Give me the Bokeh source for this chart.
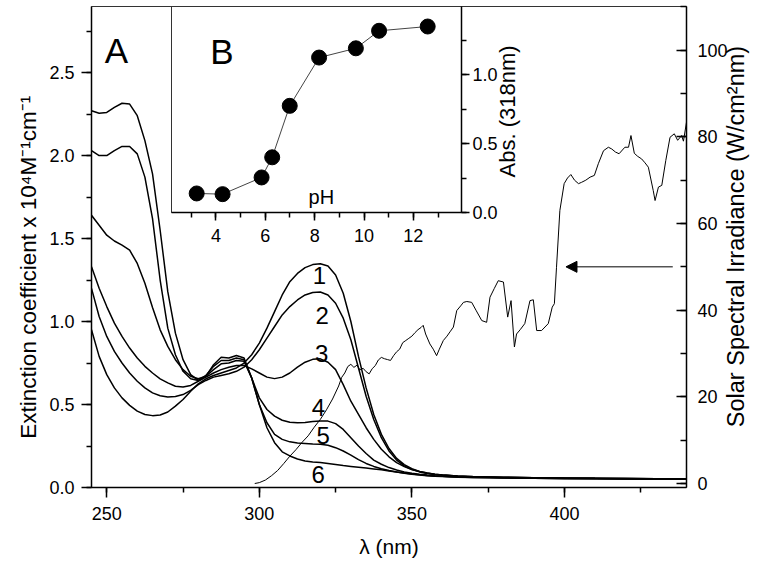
import math
from bokeh.plotting import figure
from bokeh.models import (Range1d, LinearAxis, SingleIntervalTicker, FixedTicker, Label, Arrow, NormalHead,
                          ColumnDataSource, PrintfTickFormatter)
from bokeh.embed import file_html
from bokeh.resources import INLINE
from bokeh.core.properties import value

FONT = "Liberation Sans"

# ---------------- data ----------------
wl = [245, 247.5, 250, 252.5, 255, 257.5, 260, 262.5, 265, 267.5, 270, 272.5, 275, 277.5,
      280, 282.5, 285, 287.5, 290, 292.5, 295, 297.5, 300, 302.5, 305, 307.5, 310, 312.5,
      315, 317.5, 320, 322.5, 325, 327.5, 330, 332.5, 335, 337.5, 340, 342.5, 345, 347.5,
      350, 352.5, 355, 357.5, 360, 365, 370, 380, 390, 400, 410, 420, 430, 440]

curve1 = [0.95, 0.79, 0.68, 0.60, 0.54, 0.495, 0.46, 0.44, 0.433, 0.437, 0.455, 0.49, 0.53, 0.58,
          0.625, 0.655, 0.675, 0.69, 0.705, 0.72, 0.75, 0.80, 0.87, 0.96, 1.06, 1.16, 1.24, 1.29,
          1.325, 1.343, 1.348, 1.335, 1.28, 1.17, 1.00, 0.79, 0.60, 0.44, 0.32, 0.235, 0.175, 0.138,
          0.113, 0.097, 0.087, 0.080, 0.076, 0.070, 0.066, 0.062, 0.059, 0.057, 0.055, 0.054, 0.053, 0.052]
curve2 = [1.20, 1.03, 0.91, 0.82, 0.75, 0.69, 0.64, 0.60, 0.57, 0.553, 0.545, 0.548, 0.56, 0.585,
          0.62, 0.645, 0.665, 0.675, 0.685, 0.70, 0.725, 0.77, 0.83, 0.90, 0.97, 1.04, 1.09, 1.13,
          1.16, 1.175, 1.178, 1.16, 1.11, 1.02, 0.89, 0.72, 0.55, 0.41, 0.30, 0.22, 0.165, 0.13,
          0.108, 0.094, 0.085, 0.079, 0.075, 0.069, 0.065, 0.061, 0.058, 0.056, 0.054, 0.053, 0.052, 0.051]
curve3 = [1.33, 1.20, 1.09, 0.99, 0.91, 0.84, 0.78, 0.73, 0.69, 0.655, 0.63, 0.61, 0.605, 0.615,
          0.64, 0.665, 0.69, 0.71, 0.725, 0.735, 0.735, 0.715, 0.69, 0.665, 0.656, 0.665, 0.69, 0.725,
          0.755, 0.772, 0.775, 0.755, 0.71, 0.62, 0.52, 0.44, 0.36, 0.29, 0.23, 0.185, 0.15, 0.126,
          0.108, 0.096, 0.087, 0.080, 0.075, 0.068, 0.064, 0.060, 0.058, 0.056, 0.055, 0.054, 0.053, 0.052]
curve4 = [1.64, 1.58, 1.52, 1.485, 1.46, 1.43, 1.35, 1.23, 1.085, 0.95, 0.85, 0.77, 0.71, 0.67,
          0.655, 0.67, 0.71, 0.745, 0.75, 0.765, 0.76, 0.66, 0.54, 0.47, 0.43, 0.405, 0.393, 0.39,
          0.392, 0.397, 0.40, 0.40, 0.385, 0.35, 0.30, 0.25, 0.205, 0.165, 0.14, 0.12, 0.105, 0.094,
          0.086, 0.080, 0.075, 0.071, 0.068, 0.064, 0.061, 0.058, 0.056, 0.054, 0.053, 0.052, 0.051, 0.050]
curve5 = [2.03, 2.00, 2.00, 2.03, 2.055, 2.055, 2.01, 1.87, 1.62, 1.25, 0.96, 0.80, 0.70, 0.655,
          0.645, 0.675, 0.73, 0.765, 0.765, 0.78, 0.77, 0.66, 0.50, 0.39, 0.32, 0.29, 0.275, 0.268,
          0.265, 0.262, 0.26, 0.255, 0.24, 0.22, 0.195, 0.168, 0.145, 0.127, 0.113, 0.102, 0.093, 0.086,
          0.080, 0.075, 0.071, 0.068, 0.066, 0.062, 0.060, 0.057, 0.055, 0.053, 0.052, 0.051, 0.050, 0.050]
curve6 = [2.27, 2.255, 2.26, 2.29, 2.315, 2.31, 2.24, 2.09, 1.89, 1.55, 1.18, 0.93, 0.77, 0.68,
          0.645, 0.67, 0.74, 0.785, 0.78, 0.795, 0.78, 0.66, 0.50, 0.36, 0.27, 0.215, 0.19, 0.172,
          0.16, 0.154, 0.15, 0.144, 0.138, 0.132, 0.127, 0.122, 0.117, 0.112, 0.107, 0.10, 0.094, 0.088,
          0.082, 0.077, 0.073, 0.070, 0.068, 0.065, 0.063, 0.060, 0.058, 0.056, 0.055, 0.054, 0.053, 0.052]

curve_names = ["1", "2", "3", "4", "5", "6"]
label_nm = [319.7, 320.6, 320.4, 319.4, 320.9, 319.3]
label_val = [1.277, 1.036, 0.807, 0.482, 0.313, 0.078]

solar_nm = [298.5, 300, 302, 304, 306, 308, 310, 312, 314, 316, 318, 320, 322, 324, 326, 327, 328, 329,
            330, 331, 332, 333, 334, 335, 336, 337, 338, 339, 340, 341, 342, 343, 344, 345, 346, 347,
            348, 349, 350, 351, 352, 353, 353.7, 354.5, 355.9, 357, 358.1, 359, 360.3, 361.5, 362.5,
            363.6, 364.7, 366, 366.9, 368, 369.6, 371, 372.9, 374.5, 375.6, 377, 378.3, 380, 381.4,
            382.5, 383.6, 384.3, 385.5, 387, 388.7, 389.8, 390.9, 392.5, 394.7, 396, 396.7, 397.4,
            398.5, 399.9, 401, 402.1, 403.3, 404.6, 405.6, 407, 408.4, 409.8, 411.1, 412.8, 414.4,
            415.5, 416.7, 417.9, 419.8, 421, 421.8, 422.9, 424, 425.3, 426.4, 427.5, 429.1, 429.7,
            430.8, 431.9, 433.2, 434.6, 436, 437.1, 438.4, 439, 440]
solar_val = [0, 0.2, 0.8, 1.8, 3.0, 4.6, 6.3, 7.8, 9.5, 11.0, 13.0, 14.8, 17.0, 19.5, 22.5, 24.5, 25.5, 27.0,
             27.5, 26.8, 27.3, 26.2, 26.6, 25.8, 25.3, 26.5, 27.2, 28.5, 29.1, 28.8, 28.6, 28.4, 29.5, 30.4,
             31.0, 32.5, 33.0, 33.5, 34.0, 34.8, 35.5, 36.0, 36.5, 34.5, 32.2, 31.0, 29.5, 31.0, 33.0, 34.0,
             35.0, 36.1, 39.9, 41.0, 41.8, 42.0, 41.8, 40.0, 37.6, 37.2, 43.0, 45.0, 46.8, 46.5, 38.4,
             42.2, 31.5, 34.5, 35.5, 36.9, 42.2, 42.4, 35.3, 35.3, 36.9, 40.7, 41.5, 49.9,
             63.0, 69.2, 70.5, 71.3, 70.0, 69.2, 69.5, 70.0, 70.7, 71.1, 73.8, 76.8, 77.6,
             77.2, 76.5, 76.1, 77.6, 77.6, 80.3, 76.2, 75.5, 74.9, 74.0, 73.0, 67.6, 65.3,
             68.4, 68.8, 74.5, 79.9, 80.7, 79.2, 80.3, 79.0, 83.4]

arrow_from = (435.5, 50.0)
arrow_to = (400.5, 50.0)

ph = [3.22, 4.27, 5.85, 6.28, 6.99, 8.18, 9.67, 10.61, 12.58]
abs318 = [0.138, 0.133, 0.254, 0.40, 0.773, 1.123, 1.19, 1.317, 1.348]

left_title = "Extinction coefficient x 10⁴M⁻¹cm⁻¹"
right_title = "Solar Spectral Irradiance (W/cm²nm)"
bottom_title = "λ (nm)"
inset_title = "Abs. (318nm)"

# where each vertical title is anchored, in its axis' own units
left_title_at = 2.36     # upper end of the left title
right_title_at = 13      # lower end of the right title
inset_title_at = 0.254   # lower end of the inset title


def title_axis(text, at, standoff, size, range_name="default"):
    ax = LinearAxis(y_range_name=range_name, ticker=FixedTicker(ticks=[at]),
                    major_label_overrides={at: text}, major_label_orientation=math.pi / 2)
    ax.axis_line_color = None
    ax.major_tick_line_color = None
    ax.minor_tick_line_color = None
    ax.major_tick_out = 0
    ax.major_tick_in = 0
    ax.major_label_standoff = standoff
    ax.major_label_text_font = FONT
    ax.major_label_text_font_size = size
    ax.major_label_text_color = "black"
    return ax


# ---------------- main plot ----------------
p = figure(width=766, height=567, output_backend="svg", toolbar_location=None,
           x_range=Range1d(245, 440), y_range=Range1d(0, 2.898),
           min_border_left=90, min_border_right=80, min_border_top=6, min_border_bottom=80)
p.xgrid.grid_line_color = None
p.ygrid.grid_line_color = None
p.outline_line_color = "#333333"
p.outline_line_width = 1
p.background_fill_color = "white"

p.extra_y_ranges = {"solar": Range1d(-0.923, 110.08)}

for ax in (p.xaxis[0], p.yaxis[0]):
    ax.axis_line_width = 1.5
    ax.major_tick_line_width = 1.5
    ax.minor_tick_line_width = 1.5
    ax.major_tick_out = 10
    ax.major_tick_in = 0
    ax.minor_tick_out = 5
    ax.minor_tick_in = 0
    ax.major_label_text_font = FONT
    ax.major_label_text_font_size = "18px"
    ax.major_label_text_color = "black"
    ax.axis_label_text_font = FONT
    ax.axis_label_text_font_style = "normal"
    ax.axis_label_text_color = "black"

p.xaxis.ticker = SingleIntervalTicker(interval=50, num_minor_ticks=2)
p.yaxis.ticker = SingleIntervalTicker(interval=0.5, num_minor_ticks=2)
p.yaxis.formatter = PrintfTickFormatter(format="%.1f")
p.xaxis.axis_label = bottom_title
p.xaxis.axis_label_text_font_size = "21px"
p.xaxis.major_label_standoff = 9
p.xaxis.axis_label_standoff = 12
p.yaxis.major_label_standoff = 7

p.add_layout(title_axis(left_title, left_title_at, 18, "22.5px"), "left")

rax = LinearAxis(y_range_name="solar", ticker=SingleIntervalTicker(interval=20, num_minor_ticks=2))
rax.axis_line_width = 1.5
rax.major_tick_line_width = 1.5
rax.minor_tick_line_width = 1.5
rax.major_tick_in = 10
rax.major_tick_out = 0
rax.minor_tick_in = 6
rax.minor_tick_out = 0
rax.major_label_standoff = 11
rax.major_label_text_font = FONT
rax.major_label_text_font_size = "18px"
rax.major_label_text_color = "black"
p.add_layout(rax, "right")
p.add_layout(title_axis(right_title, right_title_at, 6, "23.5px", "solar"), "right")

for ys in (curve1, curve2, curve3, curve4, curve5, curve6):
    p.line(wl, ys, line_color="black", line_width=1.5)

p.line(solar_nm, solar_val, line_color="black", line_width=1, y_range_name="solar")

p.add_layout(Arrow(end=NormalHead(size=11, fill_color="black", line_color="black", line_width=1),
                   x_start=arrow_from[0], y_start=arrow_from[1], x_end=arrow_to[0], y_end=arrow_to[1],
                   y_range_name="solar", line_color="black", line_width=1))

lab_src = ColumnDataSource(dict(x=label_nm, y=label_val, t=curve_names))
p.text(x="x", y="y", text="t", source=lab_src, text_font=value(FONT), text_font_size="24px",
       text_align="center", text_baseline="middle", text_color="black")

p.add_layout(Label(x=253.2, y=2.63, text="A", text_font=FONT, text_font_size="35px",
                   text_align="center", text_baseline="middle", text_color="black"))

# ---------------- inset ----------------
inset = figure(width=372, height=251, output_backend="svg", toolbar_location=None,
               x_range=Range1d(2.2, 13.95), y_range=Range1d(0, 1.493), y_axis_location="right",
               min_border_left=8, min_border_right=72, min_border_top=6, min_border_bottom=39)
inset.xgrid.grid_line_color = None
inset.ygrid.grid_line_color = None
inset.outline_line_color = "#333333"
inset.background_fill_alpha = 0
inset.border_fill_alpha = 0
for ax in (inset.xaxis[0], inset.yaxis[0]):
    ax.axis_line_width = 1.5
    ax.major_tick_line_width = 1.5
    ax.minor_tick_line_width = 1.5
    ax.major_tick_out = 8
    ax.major_tick_in = 0
    ax.minor_tick_out = 5
    ax.minor_tick_in = 0
    ax.major_label_text_font = FONT
    ax.major_label_text_font_size = "18px"
    ax.major_label_text_color = "black"
inset.xaxis.major_label_standoff = 8
inset.yaxis.major_label_standoff = 3
inset.xaxis.ticker = SingleIntervalTicker(interval=2, num_minor_ticks=2)
inset.yaxis.ticker = SingleIntervalTicker(interval=0.5, num_minor_ticks=2)
inset.yaxis.formatter = PrintfTickFormatter(format="%.1f")
inset.add_layout(title_axis(inset_title, inset_title_at, 7, "22px"), "right")

inset.line(ph, abs318, line_color="#444444", line_width=1)
inset.scatter(ph, abs318, size=15, fill_color="black", line_color="black")
inset.add_layout(Label(x=4.24, y=1.17, text="B", text_font=FONT, text_font_size="35px",
                       text_align="center", text_baseline="middle", text_color="black"))
inset.add_layout(Label(x=8.27, y=0.114, text="pH", text_font=FONT, text_font_size="20px",
                       text_align="center", text_baseline="middle", text_color="black"))

inset.styles = {"position": "absolute", "left": "163px", "top": "0px"}

open("out.html", "w").write(file_html([p, inset], INLINE))
